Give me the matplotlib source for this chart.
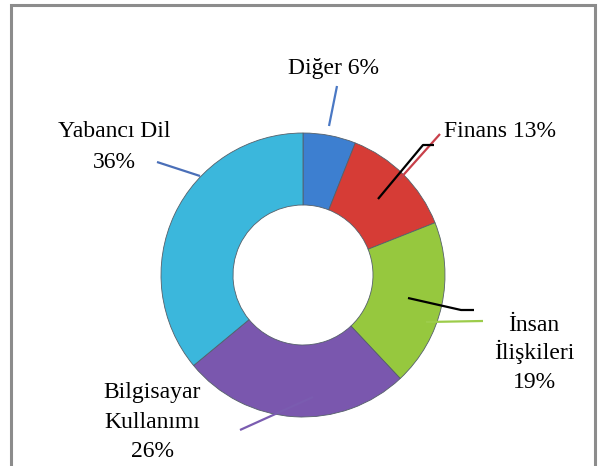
import matplotlib
matplotlib.use('Agg')
import matplotlib.pyplot as plt

# chart data
categories = ['Diğer', 'Finans', 'İnsan İlişkileri', 'Bilgisayar Kullanımı', 'Yabancı Dil']
shares = [6, 13, 19, 26, 36]
label_lines = [
    ['Diğer 6%'],
    ['Finans 13%'],
    ['İnsan', 'İlişkileri', '19%'],
    ['Bilgisayar', 'Kullanımı', '26%'],
    ['Yabancı Dil', '36%'],
]
colors = ['#3d7fd0', '#d63c36', '#96c83e', '#7a57ae', '#3bb7dc']

W, H = 598, 466


def py(y):
    # pixel row (from top) -> data y
    return H - y


fig = plt.figure(figsize=(W / 100, H / 100), dpi=100)
ax = fig.add_axes([0, 0, 1, 1])
ax.set_xlim(0, W)
ax.set_ylim(0, H)
ax.set_aspect('equal')
ax.axis('off')

# frame around the chart (bottom edge is cut off in the original)
ax.plot([11, 11, 595, 595], [0, py(5), py(5), 0], color='#8c8c8c', lw=2.2,
        solid_joinstyle='miter')

# donut
ax.pie(shares, colors=colors, startangle=90, counterclock=False,
       center=(303, py(275)), radius=142, frame=True,
       wedgeprops=dict(width=72, edgecolor='#55606a', linewidth=0.6))
ax.set_xlim(0, W)
ax.set_ylim(0, H)
ax.axis('off')

# labels: (x centre, baseline of first line, line step)
label_pos = [(334, 74, 0), (500, 137, 0), (534, 331, 28.5), (152, 398, 29.5), (114, 137, 31)]
font = dict(family='Liberation Serif', size=17, color='black')
for lines, (x, y0, step) in zip(label_lines, label_pos):
    for i, line in enumerate(lines):
        ax.text(x, py(y0 + i * step), line, ha='center', va='baseline', **font)

# leader lines, as drawn in the original
leaders = [
    ([329, 337], [126, 86], '#4a78c4'),
    ([398, 440], [181, 134], '#c8404a'),
    ([378, 423, 434], [199, 145, 145], 'black'),
    ([408, 461, 474], [298, 310, 310], 'black'),
    ([426, 483], [322, 321], '#9ccc4a'),
    ([240, 313], [430, 397], '#7a5cb0'),
    ([157, 200], [162, 176], '#4a6fb8'),
]
for xs, ys, c in leaders:
    ax.plot(xs, [py(v) for v in ys], color=c, lw=1.6, solid_capstyle='butt')

fig.savefig('out.png', dpi=100)
